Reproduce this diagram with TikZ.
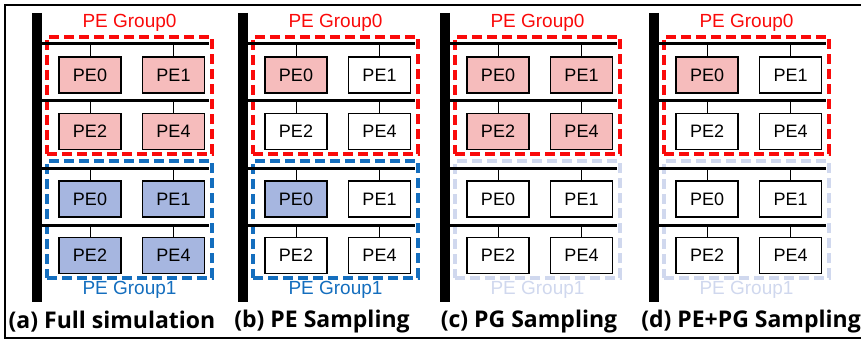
\documentclass[tikz,border=0pt]{standalone}
\usepackage{fontspec}
\setmainfont{Liberation Sans}
\newfontfamily\capfont{Open Sans}

\definecolor{grpred}{RGB}{250,10,10}
\definecolor{grpblue}{RGB}{20,110,190}
\definecolor{grpfade}{RGB}{208,216,238}
\definecolor{pered}{RGB}{246,188,188}
\definecolor{peblue}{RGB}{166,182,224}

% one PE group: name, x of the bar, top y, frame colour, fills of PE0 PE1 PE2 PE4
\newcommand{\pegroup}[8]{%
  \node[grp, draw=#4] (#1) at (#2+97.5, #3+58.5) {};
  \coordinate (#1-la) at (#2+9, #3+7);   \coordinate (#1-ra) at (#2+177, #3+7);
  \coordinate (#1-lb) at (#2+9, #3+64);  \coordinate (#1-rb) at (#2+177, #3+64);
  \draw[bus] (#1-la) -- (#1-ra);
  \draw[bus] (#1-lb) -- (#1-rb);
  \node[pe, fill=#5] (#1-0) at (#2+58, #3+38) {PE0};
  \node[pe, fill=#6] (#1-1) at (#2+141.5, #3+38) {PE1};
  \node[pe, fill=#7] (#1-2) at (#2+58, #3+94.5) {PE2};
  \node[pe, fill=#8] (#1-4) at (#2+141.5, #3+94.5) {PE4};
  \draw[stub] (#1-0.north) -- (#1-0.north |- #1-la);
  \draw[stub] (#1-1.north) -- (#1-1.north |- #1-la);
  \draw[stub] (#1-2.north) -- (#1-2.north |- #1-lb);
  \draw[stub] (#1-4.north) -- (#1-4.north |- #1-lb);
}

\begin{document}
\begin{tikzpicture}[x=1pt, y=-1pt,
    pe/.style={draw=black, line width=1.6pt, minimum width=62pt,
      minimum height=36pt, inner sep=0pt, font=\fontsize{18}{18}\selectfont},
    grp/.style={dash pattern=on 10pt off 5pt, line width=3.5pt,
      minimum width=165pt, minimum height=117pt, inner sep=0pt},
    bus/.style={line width=3pt},
    stub/.style={line width=0.8pt},
    bar/.style={line width=10pt},
    grplabel/.style={font=\fontsize{19}{19}\selectfont},
    caption/.style={font=\capfont\bfseries\fontsize{23}{23}\selectfont}]

  \useasboundingbox (0,0) rectangle (861,342);

  % outer frame, open to the right
  \coordinate (fr-tr) at (861,5);
  \coordinate (fr-br) at (861,338);
  \draw[line width=2.5pt] (fr-tr) -- (5,5) -- (5,338) -- (fr-br);

  % (a) full simulation
  \pegroup{a0}{32}{37}{grpred}{pered}{pered}{pered}{pered}
  \pegroup{a1}{32}{161}{grpblue}{peblue}{peblue}{peblue}{peblue}

  % (b) PE sampling
  \pegroup{b0}{238}{37}{grpred}{pered}{white}{white}{white}
  \pegroup{b1}{238}{161}{grpblue}{peblue}{white}{white}{white}

  % (c) PG sampling
  \pegroup{c0}{440}{37}{grpred}{pered}{pered}{pered}{pered}
  \pegroup{c1}{440}{161}{grpfade}{white}{white}{white}{white}

  % (d) PE+PG sampling
  \pegroup{d0}{649}{37}{grpred}{pered}{white}{white}{white}
  \pegroup{d1}{649}{161}{grpfade}{white}{white}{white}{white}

  \foreach \X/\p/\cx/\gc/\cap in {32/a/112/grpblue/{(a) Full simulation},
      238/b/322/grpblue/{(b) PE Sampling},
      440/c/529/grpfade/{(c) PG Sampling},
      649/d/751/grpfade/{(d) PE+PG Sampling}} {
    \coordinate (bar\p-t) at (\X+5,13);
    \coordinate (bar\p-b) at (\X+5,302);
    \draw[bar] (bar\p-t) -- (bar\p-b);
    \node[grplabel, text=grpred] (lab\p0) at (\X+97.5,23) {PE Group0};
    \node[grplabel, text=\gc] (lab\p1) at (\X+97.5,290) {PE Group1};
    \node[caption] (cap\p) at (\cx,322) {\cap};
  }

\end{tikzpicture}
\end{document}
